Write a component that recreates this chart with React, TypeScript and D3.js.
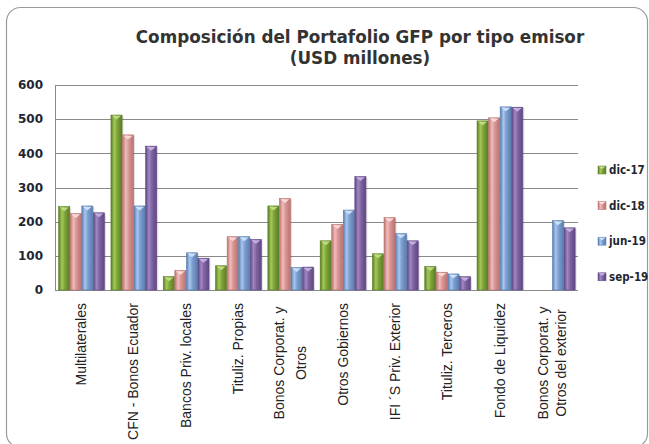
import React from "react";
import * as d3 from "d3";

const categories: string[][] = [
  ["Multilaterales"],
  ["CFN - Bonos Ecuador"],
  ["Bancos Priv. locales"],
  ["Tituliz. Propias"],
  ["Bonos Corporat. y", "Otros"],
  ["Otros Gobiernos"],
  ["IFI ´S Priv. Exterior"],
  ["Tituliz. Terceros"],
  ["Fondo de Liquidez"],
  ["Bonos Corporat. y", "Otros del exterior"],
];

const seriesNames = ["dic-17", "dic-18", "jun-19", "sep-19"];

const dic17 = [244, 512, 39, 71, 246, 144, 106, 69, 495, 0];
const dic18 = [224, 454, 57, 156, 268, 192, 212, 52, 504, 0];
const jun19 = [246, 246, 109, 156, 66, 234, 165, 47, 536, 203];
const sep19 = [226, 421, 93, 148, 67, 332, 144, 39, 535, 182];

const yTicks = [0, 100, 200, 300, 400, 500, 600];

const titleLines = ["Composición del Portafolio GFP por tipo emisor", "(USD millones)"];

const palette = [
  { base: "#7fa43b", light: "#a3c85a", dark: "#5a7d22", cap: "#c4e08a" },
  { base: "#d99694", light: "#f0bcba", dark: "#b97270", cap: "#fbdedd" },
  { base: "#7c9fcf", light: "#a9c6ee", dark: "#5a7db0", cap: "#d3e6fb" },
  { base: "#8064a2", light: "#a088c2", dark: "#5f4684", cap: "#c9b6e4" },
];

export default function App() {
  const W = 649;
  const H = 444;
  const left = 55;
  const right = 578;
  const top = 85;
  const bottom = 290;

  const series = [dic17, dic18, jun19, sep19];

  const x0 = d3
    .scaleBand<number>()
    .domain(d3.range(categories.length))
    .range([left, right])
    .padding(0);
  const bw = x0.bandwidth();
  const x1 = d3
    .scaleBand<number>()
    .domain(d3.range(seriesNames.length))
    .range([bw * 0.07, bw * 0.945])
    .paddingInner(0.04);
  const y = d3.scaleLinear().domain([0, 600]).range([bottom, top]);

  const barW = x1.bandwidth();

  return (
    <svg
      width={W}
      height={H}
      style={{ position: "absolute", left: 0, top: 0, background: "#fff" }}
    >
      <defs>
        {palette.map((p, i) => (
          <linearGradient key={i} id={`g${i}`} x1="0" x2="1" y1="0" y2="0">
            <stop offset="0" stopColor={p.dark} />
            <stop offset="0.3" stopColor={p.light} />
            <stop offset="0.55" stopColor={p.base} />
            <stop offset="1" stopColor={p.dark} />
          </linearGradient>
        ))}
      </defs>

      <rect
        x={6.5}
        y={7.5}
        width={641}
        height={440}
        rx={14}
        fill="#fff"
        stroke="#9a9a9a"
        strokeWidth={1.2}
      />

      {titleLines.map((t, i) => (
        <text
          key={i}
          x={360}
          y={43 + i * 21}
          textAnchor="middle"
          fontFamily="'DejaVu Sans', Verdana, sans-serif"
          fontWeight="bold"
          fontSize={16.8}
          fill="#333"
        >
          {t}
        </text>
      ))}

      {yTicks.map((t) => (
        <g key={t}>
          <line
            x1={left}
            x2={right}
            y1={Math.round(y(t)) + 0.5}
            y2={Math.round(y(t)) + 0.5}
            stroke="#8a8a8a"
            strokeWidth={1}
          />
          <text
            x={43}
            y={y(t)}
            dy="0.36em"
            textAnchor="end"
            fontFamily="'DejaVu Sans', Verdana, sans-serif"
            fontWeight="bold"
            fontSize={12}
            fill="#1f2633"
          >
            {t}
          </text>
        </g>
      ))}
      <line x1={left + 0.5} x2={left + 0.5} y1={top} y2={bottom} stroke="#8a8a8a" />

      {categories.map((_, ci) => (
        <g key={ci} transform={`translate(${x0(ci)},0)`}>
          {series.map((vals, si) => {
            const v = vals[ci];
            if (!v) return null;
            const bx = x1(si)!;
            const by = y(v);
            const h = y(0) - by;
            const p = palette[si];
            return (
              <g key={si}>
                <rect
                  x={bx + 1.5}
                  y={by + 1}
                  width={barW}
                  height={h - 1}
                  fill="#000"
                  opacity={0.12}
                />
                <rect
                  x={bx}
                  y={by}
                  width={barW}
                  height={h}
                  fill={`url(#g${si})`}
                  stroke={p.dark}
                  strokeWidth={0.6}
                />
                <path
                  d={`M${bx + 1},${by + 0.8} L${bx + barW - 1},${by + 0.8} L${bx + barW / 2},${by + 4.5} Z`}
                  fill={p.cap}
                  opacity={0.9}
                />
              </g>
            );
          })}
        </g>
      ))}

      {categories.map((lines, ci) => {
        const cx = x0(ci)! + bw / 2;
        const gap = lines.length > 1 && ci === 4 ? 22 : 18;
        return (
          <g key={ci}>
            {lines.map((ln, li) => {
              const off = (li - (lines.length - 1) / 2) * gap;
              const lx = cx + off + 5;
              const multi = lines.length > 1;
              const ly = multi ? 363 : 303;
              return (
                <text
                  key={li}
                  transform={`translate(${lx},${ly}) rotate(-90)`}
                  textAnchor={multi ? "middle" : "end"}
                  fontFamily="'Liberation Sans', Arial, sans-serif"
                  fontSize={14}
                  fill="#222"
                >
                  {ln}
                </text>
              );
            })}
          </g>
        );
      })}

      {seriesNames.map((n, i) => {
        const ly = 170 + i * 35.6;
        const p = palette[i];
        return (
          <g key={n}>
            <rect x={598} y={ly - 4} width={8} height={8} fill={`url(#g${i})`} stroke={p.dark} strokeWidth={0.5} />
            <path d={`M598.5,${ly - 3.5} L605.5,${ly - 3.5} L602,${ly - 1} Z`} fill={p.cap} />
            <text
              x={609}
              y={ly}
              dy="0.36em"
              fontFamily="'DejaVu Sans Condensed', 'DejaVu Sans', sans-serif"
              fontStretch="condensed"
              fontWeight="bold"
              fontSize={11.5}
              fill="#1f2633"
            >
              {n}
            </text>
          </g>
        );
      })}
    </svg>
  );
}
